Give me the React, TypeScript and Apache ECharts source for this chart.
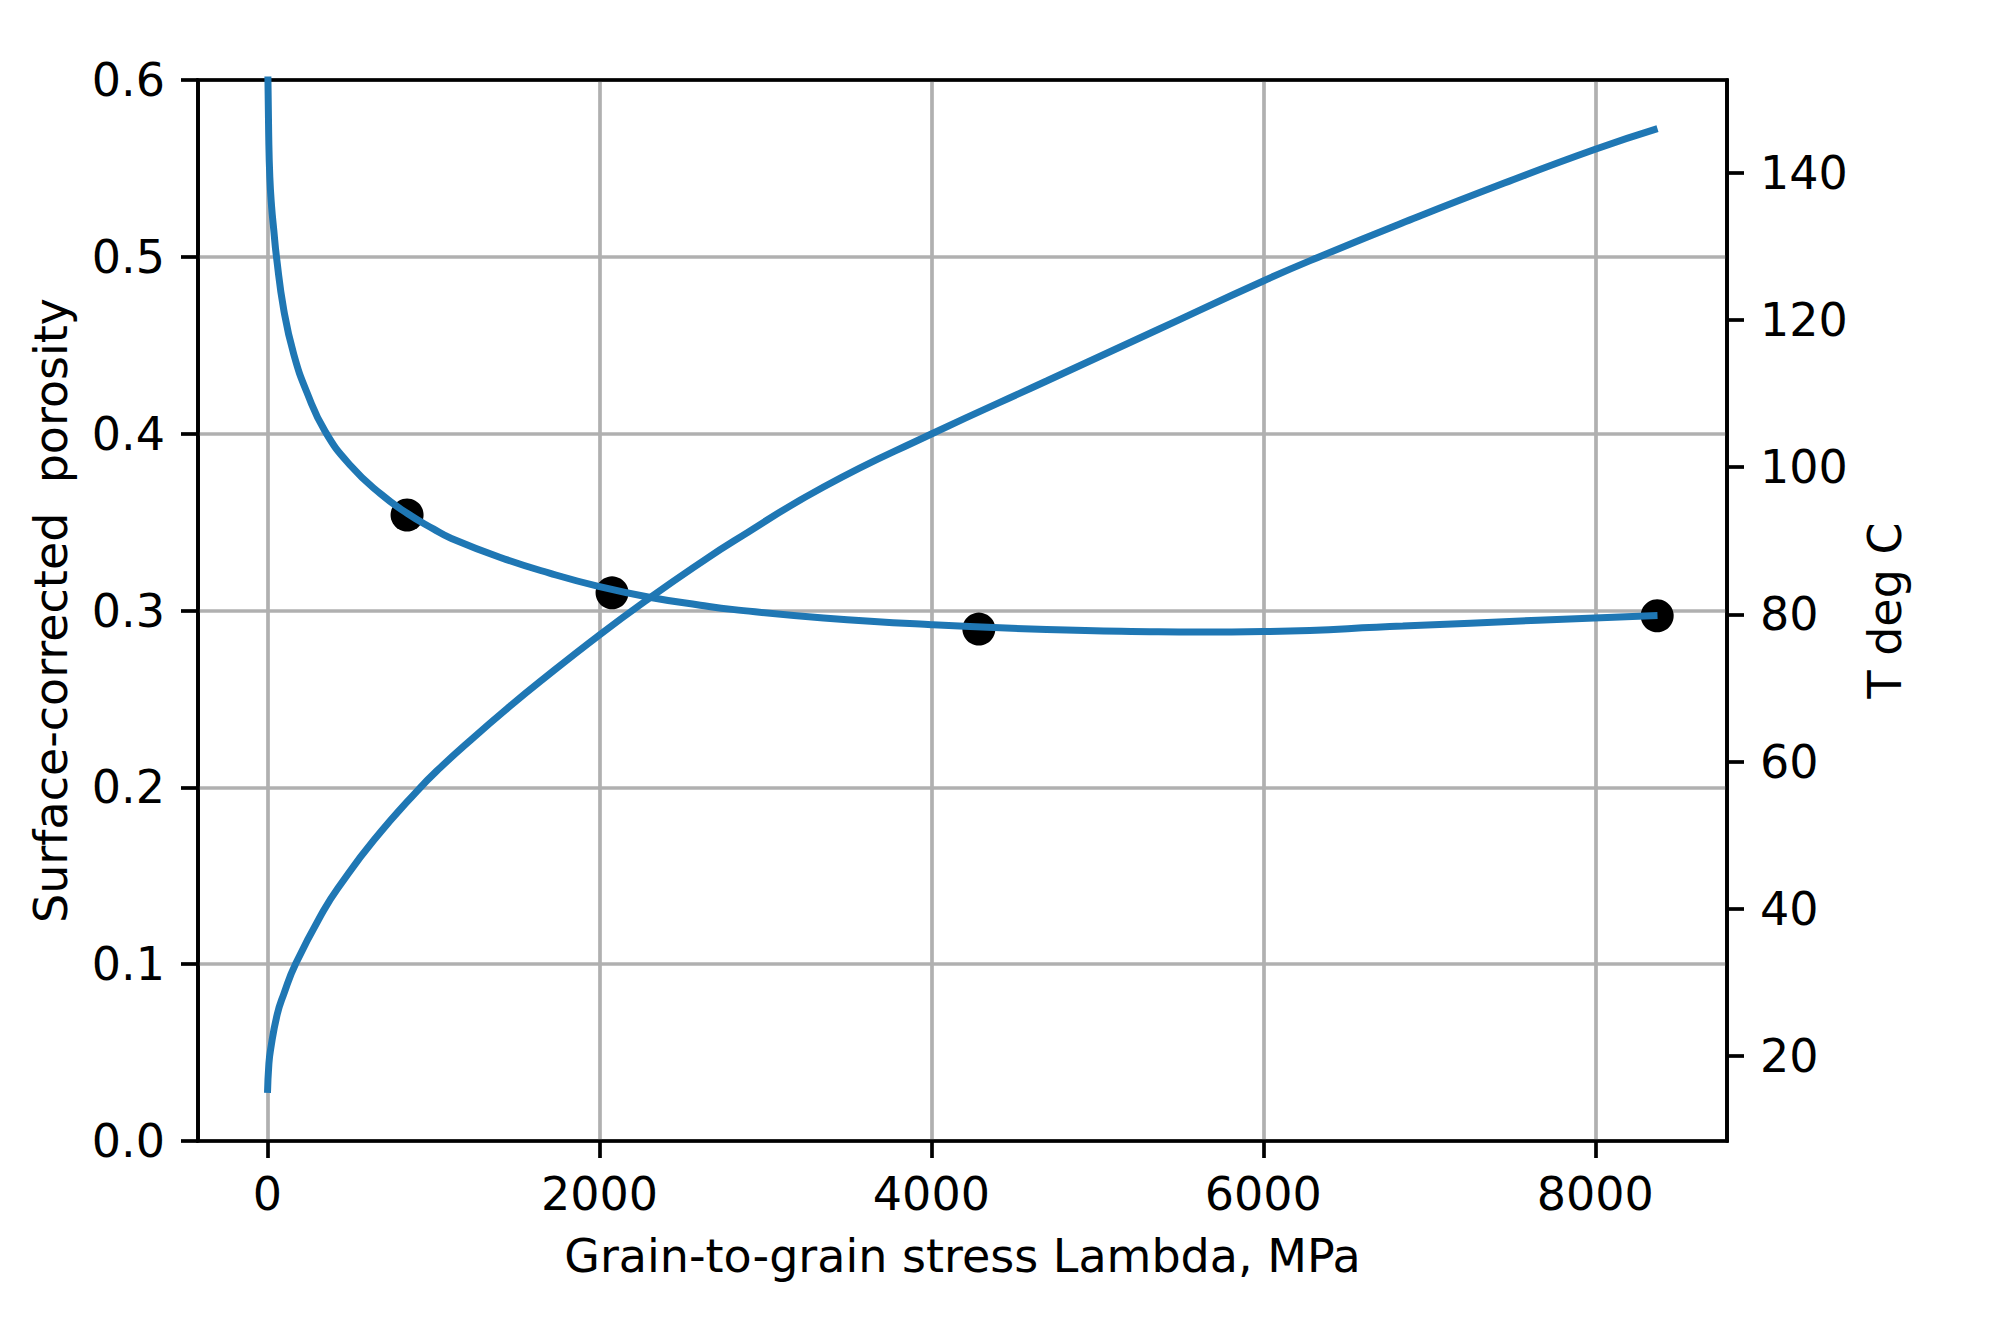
import React, { useEffect, useRef } from "react";
import * as echarts from "echarts";

// Porosity fit curve (Lambda in MPa, porosity)
const lambdaPhi = [2, 7, 14, 25, 38, 54, 98, 158, 239, 349, 500, 681, 841, 1002, 1102, 1403, 1704, 2000, 2301, 2608, 2812, 3350, 4000, 4694, 5366, 5619, 6000, 6840, 7655, 8375];
const phiValues = [0.605, 0.57, 0.545, 0.528, 0.515, 0.5, 0.47, 0.445, 0.423, 0.401, 0.382, 0.366, 0.355, 0.346, 0.341, 0.33, 0.321, 0.3135, 0.3075, 0.303, 0.3005, 0.2958, 0.292, 0.2893, 0.288, 0.2878, 0.2881, 0.2912, 0.2945, 0.2972];

// Temperature curve (Lambda in MPa, T deg C)
const lambdaT = [0, 8, 18, 58, 98, 169, 339, 440, 640, 901, 1042, 1243, 1444, 1644, 2000, 2301, 2608, 2812, 3350, 4000, 4694, 5366, 6000, 6372, 6840, 7452, 8000, 8375];
const tempValues = [15.0, 18.8, 20.8, 25.6, 28.4, 32.5, 39.8, 43.3, 49.3, 56.0, 59.2, 63.3, 67.2, 70.9, 77.2, 82.2, 87.0, 90.0, 97.3, 104.5, 111.7, 118.7, 125.3, 128.9, 133.2, 138.6, 143.2, 146.0];

// Measured points
const pointLambda = [841, 2076, 4286, 8373];
const pointPhi = [0.354, 0.31, 0.2895, 0.297];

// Tick values
const xTicks = [0, 2000, 4000, 6000, 8000];
const leftTicks = [0, 0.1, 0.2, 0.3, 0.4, 0.5, 0.6];
const leftGrid = [0.1, 0.2, 0.3, 0.4, 0.5];
const rightTicks = [20, 40, 60, 80, 100, 120, 140];

const BLUE = "#1f77b4";
const FONT = "DejaVu Sans";
const FS = 46;
const GRID_C = "#b0b0b0";
const LW = 3.7;

export default function App() {
  const ref = useRef<HTMLDivElement>(null);
  useEffect(() => {
    if (!ref.current) return;
    const chart = echarts.init(ref.current, undefined, { renderer: "svg" });
    const labelStyle = { color: "#000", fontFamily: FONT, fontSize: FS };
    chart.setOption({
      animation: false,
      backgroundColor: "#fff",
      textStyle: { fontFamily: FONT },
      grid: {
        left: 198,
        right: 266,
        top: 80,
        bottom: 183,
        show: true,
        borderColor: "#000",
        borderWidth: LW,
        backgroundColor: "transparent",
      },
      xAxis: [
        {
          type: "value",
          min: -418.75,
          max: 8793.75,
          position: "bottom",
          name: "Grain-to-grain stress Lambda, MPa",
          nameLocation: "middle",
          nameGap: 92,
          nameMoveOverlap: false,
          nameTextStyle: labelStyle,
          axisLine: { show: true, onZero: false, lineStyle: { color: "#000", width: LW } },
          axisTick: { show: true, length: 17, lineStyle: { color: "#000", width: LW }, customValues: xTicks },
          axisLabel: { ...labelStyle, margin: 30, customValues: xTicks, formatter: (v: number) => String(v) },
          splitLine: { show: true, lineStyle: { color: GRID_C, width: LW }, customValues: xTicks },
        },
        {
          type: "value",
          min: -418.75,
          max: 8793.75,
          position: "top",
          axisLine: { show: true, onZero: false, lineStyle: { color: "#000", width: LW } },
          axisTick: { show: false },
          axisLabel: { show: false },
          splitLine: { show: false },
        },
      ],
      yAxis: [
        {
          type: "value",
          min: 0,
          max: 0.6,
          interval: 0.1,
          position: "left",
          name: "Surface-corrected  porosity",
          nameLocation: "middle",
          nameRotate: 90,
          nameGap: 124,
          nameMoveOverlap: false,
          nameTextStyle: labelStyle,
          axisLine: { show: true, onZero: false, lineStyle: { color: "#000", width: LW } },
          axisTick: { show: true, length: 17, lineStyle: { color: "#000", width: LW }, customValues: leftTicks },
          axisLabel: { ...labelStyle, margin: 33, customValues: leftTicks, formatter: (v: number) => v.toFixed(1) },
          splitLine: { show: true, lineStyle: { color: GRID_C, width: LW }, customValues: leftGrid },
        },
        {
          type: "value",
          min: 8.45,
          max: 152.6,
          position: "right",
          name: "T deg C",
          nameLocation: "middle",
          nameRotate: 90,
          nameGap: 135,
          nameMoveOverlap: false,
          nameTextStyle: labelStyle,
          axisLine: { show: true, onZero: false, lineStyle: { color: "#000", width: LW } },
          axisTick: { show: true, length: 17, lineStyle: { color: "#000", width: LW }, customValues: rightTicks },
          axisLabel: { ...labelStyle, margin: 33, customValues: rightTicks, formatter: (v: number) => String(v) },
          splitLine: { show: false },
        },
      ],
      series: [
        {
          type: "scatter",
          yAxisIndex: 0,
          symbol: "circle",
          symbolSize: 33,
          itemStyle: { color: "#000", opacity: 1 },
          data: pointLambda.map((x, i) => [x, pointPhi[i]]),
          z: 2,
        },
        {
          type: "line",
          yAxisIndex: 0,
          showSymbol: false,
          smooth: 0.5,
          clip: true,
          lineStyle: { color: BLUE, width: 7 },
          data: lambdaPhi.map((x, i) => [x, phiValues[i]]),
          z: 3,
        },
        {
          type: "line",
          yAxisIndex: 1,
          showSymbol: false,
          smooth: 0.5,
          clip: true,
          lineStyle: { color: BLUE, width: 7 },
          data: lambdaT.map((x, i) => [x, tempValues[i]]),
          z: 3,
        },
      ],
    });
    return () => chart.dispose();
  }, []);
  return (
    <div
      ref={ref}
      style={{ position: "absolute", left: 0, top: 0, width: 1993, height: 1324 }}
    />
  );
}
